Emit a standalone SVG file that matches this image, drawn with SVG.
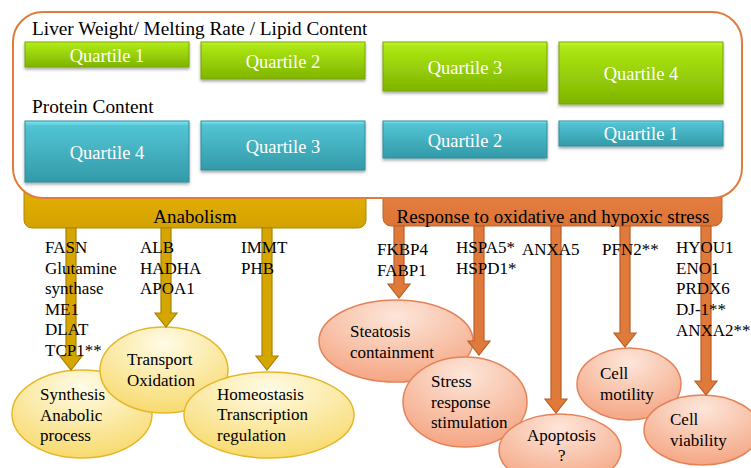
<svg xmlns="http://www.w3.org/2000/svg" width="751" height="468" viewBox="0 0 751 468">
<defs>
<linearGradient id="gGreen" x1="0" y1="0" x2="0" y2="1">
<stop offset="0" stop-color="#c8f53a"/><stop offset="0.08" stop-color="#aee814"/><stop offset="1" stop-color="#7fb400"/>
</linearGradient>
<linearGradient id="gBlue" x1="0" y1="0" x2="0" y2="1">
<stop offset="0" stop-color="#8ae8f4"/><stop offset="0.08" stop-color="#52c4d4"/><stop offset="1" stop-color="#339aa8"/>
</linearGradient>
<linearGradient id="gGoldBar" x1="0" y1="0" x2="0" y2="1">
<stop offset="0" stop-color="#e6b400"/><stop offset="1" stop-color="#d4a200"/>
</linearGradient>
<linearGradient id="gOrangeBar" x1="0" y1="0" x2="0" y2="1">
<stop offset="0" stop-color="#e88244"/><stop offset="1" stop-color="#dc7436"/>
</linearGradient>
<radialGradient id="gYel" cx="0.5" cy="0.2" r="0.85">
<stop offset="0" stop-color="#fffbe6"/><stop offset="1" stop-color="#f7d866"/>
</radialGradient>
<radialGradient id="gSal" cx="0.5" cy="0.2" r="0.85">
<stop offset="0" stop-color="#fde6da"/><stop offset="1" stop-color="#f4a27e"/>
</radialGradient>
<filter id="sh" x="-10%" y="-20%" width="120%" height="160%">
<feDropShadow dx="0" dy="2" stdDeviation="1.5" flood-color="#000" flood-opacity="0.35"/>
</filter>
</defs>
<style>
.t{font-family:"Liberation Serif","Times New Roman",serif;fill:#000;}
.q{font-family:"Liberation Serif","Times New Roman",serif;fill:#fff;font-size:18.5px;text-anchor:middle;}
.g{font-size:17px;}
.h{font-size:19.3px;}
.bar{font-size:19px;text-anchor:middle;}
.green{fill:url(#gGreen);stroke:#78a400;stroke-width:1;filter:url(#sh);}
.blue{fill:url(#gBlue);stroke:#2d8e9c;stroke-width:1;filter:url(#sh);}
.ey{fill:url(#gYel);stroke:#e6b62a;stroke-width:1.5;}
.es{fill:url(#gSal);stroke:#e4835a;stroke-width:1.5;}
.ag{fill:#d6a600;stroke:#a88200;stroke-width:1.2;}
.ao{fill:#e07a3a;stroke:#b85e28;stroke-width:1.2;}
</style>
<rect width="751" height="468" fill="#fff"/>

<g id="anabolism-bar">
<rect x="24" y="180" width="342" height="48" rx="8" fill="url(#gGoldBar)" stroke="#b08600" stroke-width="1"/>
</g>
<g id="stress-bar">
<rect x="383" y="180" width="339" height="46" rx="8" fill="url(#gOrangeBar)" stroke="#c0622a" stroke-width="1"/>
</g>

<g id="quartile-panel">
<rect x="13" y="12" width="729" height="186" rx="30" fill="#fff" stroke="#e07b39" stroke-width="2"/>
<text class="t h" x="32" y="35">Liver Weight/ Melting Rate / Lipid Content</text>
<text class="t h" x="32" y="113">Protein Content</text>
</g>

<g id="lw-q1"><rect class="green" x="25" y="42" width="164" height="25"/><text class="q" x="107" y="61.5">Quartile 1</text></g>
<g id="lw-q2"><rect class="green" x="201" y="42" width="164" height="37"/><text class="q" x="283" y="67.5">Quartile 2</text></g>
<g id="lw-q3"><rect class="green" x="383" y="42" width="164" height="49"/><text class="q" x="465" y="73.5">Quartile 3</text></g>
<g id="lw-q4"><rect class="green" x="559" y="42" width="164" height="62"/><text class="q" x="641" y="80">Quartile 4</text></g>

<g id="pc-q4"><rect class="blue" x="25" y="121" width="164" height="61"/><text class="q" x="107" y="159">Quartile 4</text></g>
<g id="pc-q3"><rect class="blue" x="201" y="121" width="164" height="49"/><text class="q" x="283" y="152.5">Quartile 3</text></g>
<g id="pc-q2"><rect class="blue" x="383" y="121" width="164" height="37"/><text class="q" x="465" y="146.5">Quartile 2</text></g>
<g id="pc-q1"><rect class="blue" x="559" y="121" width="164" height="25"/><text class="q" x="641" y="140">Quartile 1</text></g>

<text class="t bar" x="195" y="223">Anabolism</text>
<text class="t bar" x="553" y="223">Response to oxidative and hypoxic stress</text>

<g id="synthesis"><ellipse class="ey" cx="82" cy="414" rx="70" ry="44"/>
<text class="t g" x="40"><tspan x="40" y="400">Synthesis</tspan><tspan x="40" y="421">Anabolic</tspan><tspan x="40" y="441">process</tspan></text></g>
<g id="transport"><ellipse class="ey" cx="164" cy="370" rx="64" ry="43"/>
<text class="t g"><tspan x="127" y="365">Transport</tspan><tspan x="127" y="386">Oxidation</tspan></text></g>
<g id="homeostasis"><ellipse class="ey" cx="269" cy="415" rx="85" ry="43"/>
<text class="t g"><tspan x="217" y="400">Homeostasis</tspan><tspan x="217" y="420">Transcription</tspan><tspan x="217" y="441">regulation</tspan></text></g>

<g id="steatosis"><ellipse class="es" cx="396" cy="341" rx="77" ry="41"/>
<text class="t g"><tspan x="350" y="337">Steatosis</tspan><tspan x="350" y="358">containment</tspan></text></g>
<g id="stress"><ellipse class="es" cx="465" cy="402" rx="62" ry="45"/>
<text class="t g"><tspan x="431" y="387">Stress</tspan><tspan x="431" y="408">response</tspan><tspan x="431" y="428">stimulation</tspan></text></g>
<g id="apoptosis"><ellipse class="es" cx="560" cy="450" rx="61" ry="36"/>
<text class="t g"><tspan x="527" y="441">Apoptosis</tspan><tspan x="558" y="461">?</tspan></text></g>
<g id="motility"><ellipse class="es" cx="629" cy="384" rx="52" ry="36"/>
<text class="t g"><tspan x="600" y="379">Cell</tspan><tspan x="600" y="400">motility</tspan></text></g>
<g id="viability"><ellipse class="es" cx="702" cy="430" rx="58" ry="35"/>
<text class="t g"><tspan x="670" y="425">Cell</tspan><tspan x="670" y="446">viability</tspan></text></g>

<g id="connectors">
<path class="ag" d="M66,228 L76,228 L76,356 L82,356 L71,370 L60,356 L66,356 Z"/>
<path class="ag" d="M161,228 L171,228 L171,313 L177,313 L166,327 L155,313 L161,313 Z"/>
<path class="ag" d="M262,228 L272,228 L272,356 L278,356 L267,370 L256,356 L262,356 Z"/>
<path class="ao" d="M394,226 L404,226 L404,284 L410,284 L399,298 L388,284 L394,284 Z"/>
<path class="ao" d="M474,226 L484,226 L484,341 L490,341 L479,355 L468,341 L474,341 Z"/>
<path class="ao" d="M551,226 L561,226 L561,399 L567,399 L556,413 L545,399 L551,399 Z"/>
<path class="ao" d="M620,226 L630,226 L630,333 L636,333 L625,347 L614,333 L620,333 Z"/>
<path class="ao" d="M701,226 L711,226 L711,381 L717,381 L706,395 L695,381 L701,381 Z"/>
</g>

<g id="gene-labels" class="t g">
<text><tspan x="45" y="253">FASN</tspan><tspan x="45" y="274">Glutamine</tspan><tspan x="45" y="294">synthase</tspan><tspan x="45" y="315">ME1</tspan><tspan x="45" y="335">DLAT</tspan><tspan x="45" y="356">TCP1**</tspan></text>
<text><tspan x="140" y="253">ALB</tspan><tspan x="140" y="274">HADHA</tspan><tspan x="140" y="294">APOA1</tspan></text>
<text><tspan x="241" y="253">IMMT</tspan><tspan x="241" y="274">PHB</tspan></text>
<text><tspan x="377" y="255">FKBP4</tspan><tspan x="377" y="276">FABP1</tspan></text>
<text><tspan x="456" y="253">HSPA5*</tspan><tspan x="456" y="274">HSPD1*</tspan></text>
<text x="522" y="255">ANXA5</text>
<text x="602" y="255">PFN2**</text>
<text><tspan x="676" y="253">HYOU1</tspan><tspan x="676" y="274">ENO1</tspan><tspan x="676" y="294">PRDX6</tspan><tspan x="676" y="315">DJ-1**</tspan><tspan x="676" y="336">ANXA2**</tspan></text>
</g>
</svg>
